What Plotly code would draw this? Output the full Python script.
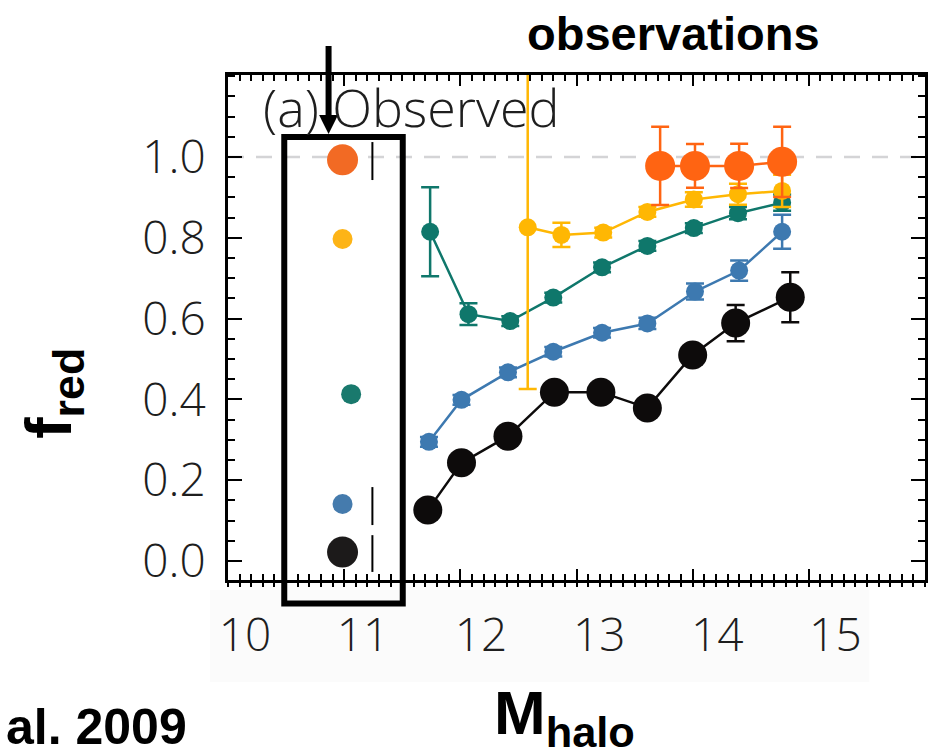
import plotly.graph_objects as go

# ---------------- data ----------------
black_x = [11.72, 12.01, 12.41, 12.81, 13.21, 13.61, 14.00, 14.37, 14.84]
black_y = [0.126, 0.243, 0.309, 0.418, 0.418, 0.379, 0.510, 0.589, 0.653]
black_e = [0.010, 0.010, 0.010, 0.010, 0.010, 0.010, 0.012, 0.045, 0.062]

blue_x = [11.73, 12.01, 12.41, 12.80, 13.22, 13.61, 14.02, 14.40, 14.77]
blue_y = [0.295, 0.399, 0.467, 0.518, 0.565, 0.588, 0.667, 0.719, 0.815]
blue_e = [0.012, 0.012, 0.012, 0.012, 0.012, 0.014, 0.020, 0.025, 0.042]

teal_x = [11.74, 12.07, 12.43, 12.80, 13.22, 13.61, 14.01, 14.39, 14.77]
teal_y = [0.815, 0.611, 0.594, 0.652, 0.727, 0.780, 0.824, 0.861, 0.887]
teal_e = [0.110, 0.027, 0.012, 0.012, 0.012, 0.012, 0.012, 0.015, 0.020]

yellow_x = [12.58, 12.87, 13.23, 13.61, 14.01, 14.39, 14.77]
yellow_y = [0.826, 0.807, 0.813, 0.864, 0.895, 0.908, 0.916]
yellow_e = [0.400, 0.030, 0.012, 0.012, 0.018, 0.026, 0.040]

orange_x = [13.72, 14.02, 14.40, 14.77]
orange_y = [0.978, 0.978, 0.978, 0.988]
orange_e = [0.097, 0.054, 0.055, 0.087]

# markers shown inside the highlighted box
box_x = [10.986, 10.986, 11.06, 10.986, 10.986]
box_y = [0.993, 0.797, 0.413, 0.141, 0.022]
box_colors = ["#f26a24", "#fdb417", "#19796d", "#457bad", "#1c1a1a"]
box_sizes = [31, 20, 20, 20, 31]
bar_x = [11.243, 11.243, None, 11.243, 11.243, None, 11.243, 11.243]
bar_y = [1.037, 0.943, None, 0.183, 0.089, None, 0.064, -0.027]

x_tick_vals = [10, 11, 12, 13, 14, 15]
x_tick_text = ["10", "11", "12", "13", "14", "15"]
y_tick_vals = [0.0, 0.2, 0.4, 0.6, 0.8, 1.0]

# ---------------- figure ----------------
W, H = 929, 755
L, R, T, B = 228, 1, 75, 175
PW, PH = W - L - R, H - T - B


def px(xp):
    return (xp - L) / PW


def py(yp):
    return (H - B - yp) / PH


thin_font = "Open Sans"
thin = dict(family=thin_font, size=46, color="#1e1e1e", weight=300)

fig = go.Figure()


def series(x, y, e, color, size, lw=2.5):
    fig.add_trace(go.Scatter(
        x=x, y=y, mode="lines+markers",
        line=dict(color=color, width=lw),
        marker=dict(color=color, size=size, opacity=1, line=dict(width=0)),
        error_y=dict(type="data", array=e, visible=True, color=color,
                     thickness=2.5, width=9),
        showlegend=False, hoverinfo="skip"))


series(black_x, black_y, black_e, "#0d0b0b", 29)
series(blue_x, blue_y, blue_e, "#3d79b0", 18)
series(teal_x, teal_y, teal_e, "#0f776b", 18)
series(yellow_x, yellow_y, yellow_e, "#ffb703", 18)
series(orange_x, orange_y, orange_e, "#ff6412", 30)

fig.add_trace(go.Scatter(
    x=box_x, y=box_y, mode="markers",
    marker=dict(color=box_colors, size=box_sizes, opacity=1, line=dict(width=0)),
    showlegend=False, hoverinfo="skip"))
fig.add_trace(go.Scatter(
    x=bar_x, y=bar_y, mode="lines", line=dict(color="black", width=2),
    showlegend=False, hoverinfo="skip"))

# dashed reference line at 1.0
fig.add_shape(type="line", xref="x", yref="y", x0=10, x1=16, y0=1.0, y1=1.0,
              line=dict(color="#d4d4d6", width=2.5, dash="16px,12px"), layer="below")

# faint background strip behind x tick labels
fig.add_shape(type="rect", xref="paper", yref="paper",
              x0=px(210), x1=px(872), y0=py(590), y1=py(682),
              fillcolor="#fbfbfb", line=dict(width=0), layer="below")

# highlight box
fig.add_shape(type="rect", xref="paper", yref="paper",
              x0=px(284.5), x1=px(403.5), y0=py(603.5), y1=py(137),
              line=dict(color="black", width=6), fillcolor="rgba(0,0,0,0)", layer="above")
# arrow
fig.add_shape(type="line", xref="paper", yref="paper",
              x0=px(329), x1=px(329), y0=py(46), y1=py(117),
              line=dict(color="black", width=6), layer="above")
fig.add_shape(type="path", xref="paper", yref="paper",
              path=f"M {px(319.5)},{py(115)} L {px(338.5)},{py(115)} L {px(329)},{py(134)} Z",
              fillcolor="black", line=dict(width=0), layer="above")

fig.update_layout(
    width=W, height=H,
    margin=dict(l=L, r=R, t=T, b=B, pad=0),
    plot_bgcolor="white", paper_bgcolor="white",
    font=dict(family=thin_font, color="#1a1a1a"),
    xaxis=dict(range=[10, 16], showline=True, linecolor="black", linewidth=3,
               mirror="ticks", ticks="inside", ticklen=11, tickwidth=2,
               tickcolor="black", dtick=1, tick0=10, showticklabels=False,
               showgrid=False, zeroline=False,
               minor=dict(dtick=0.1, ticks="inside", ticklen=6, tickwidth=2,
                          tickcolor="black", showgrid=False)),
    xaxis2=dict(range=[9.857, 15.759], overlaying="x", side="bottom", anchor="y",
                tickmode="array", tickvals=x_tick_vals, ticktext=x_tick_text,
                ticks="", showline=False, showgrid=False, zeroline=False,
                ticklabelstandoff=24, tickfont=thin),
    xaxis3=dict(range=[10, 16], overlaying="x", side="bottom", anchor="y",
                ticks="outside", ticklen=6, tickwidth=2, tickcolor="black",
                dtick=1, tick0=10, showticklabels=False, showline=False,
                showgrid=False, zeroline=False,
                minor=dict(dtick=0.1, ticks="outside", ticklen=6, tickwidth=2,
                           tickcolor="black", showgrid=False)),
    yaxis=dict(range=[-0.047, 1.203], showline=True, linecolor="black", linewidth=3,
               mirror="ticks", ticks="inside", ticklen=14, tickwidth=2,
               tickcolor="black", tickmode="array", tickvals=y_tick_vals,
               tickformat=".1f", showgrid=False, zeroline=False,
               ticklabelstandoff=10, tickfont=thin,
               minor=dict(dtick=0.05, tick0=0, ticks="inside", ticklen=7, tickwidth=2,
                          tickcolor="black", showgrid=False)),
)

# empty traces so the auxiliary axes are drawn
fig.add_trace(go.Scatter(x=[None], y=[None], xaxis="x2", yaxis="y",
                         showlegend=False, hoverinfo="skip"))
fig.add_trace(go.Scatter(x=[None], y=[None], xaxis="x3", yaxis="y",
                         showlegend=False, hoverinfo="skip"))

bold = "Liberation Sans"
fig.add_annotation(xref="paper", yref="paper", x=px(261), y=py(106),
                   xanchor="left", yanchor="middle", showarrow=False,
                   text="(a) Observed",
                   font=dict(family=thin_font, size=52, color="#1e1e1e", weight=300))
fig.add_annotation(xref="paper", yref="paper", x=px(675), y=py(34),
                   xanchor="center", yanchor="middle", showarrow=False,
                   text="<b>observations</b>",
                   font=dict(family=bold, size=47, color="black"))
fig.add_annotation(xref="paper", yref="paper", x=px(52), y=py(393),
                   xanchor="center", yanchor="middle", showarrow=False, textangle=-90,
                   text="<b>f<sub>red</sub></b>",
                   font=dict(family=bold, size=64, color="black"))
fig.add_annotation(xref="paper", yref="paper", x=px(566), y=py(717),
                   xanchor="center", yanchor="middle", showarrow=False,
                   text="<b>M<sub>halo</sub></b>",
                   font=dict(family=bold, size=62, color="black"))
fig.add_annotation(xref="paper", yref="paper", x=px(3), y=py(727),
                   xanchor="left", yanchor="middle", showarrow=False,
                   text="<b>al. 2009</b>",
                   font=dict(family=bold, size=50, color="black"))

fig.write_html("out.html")
